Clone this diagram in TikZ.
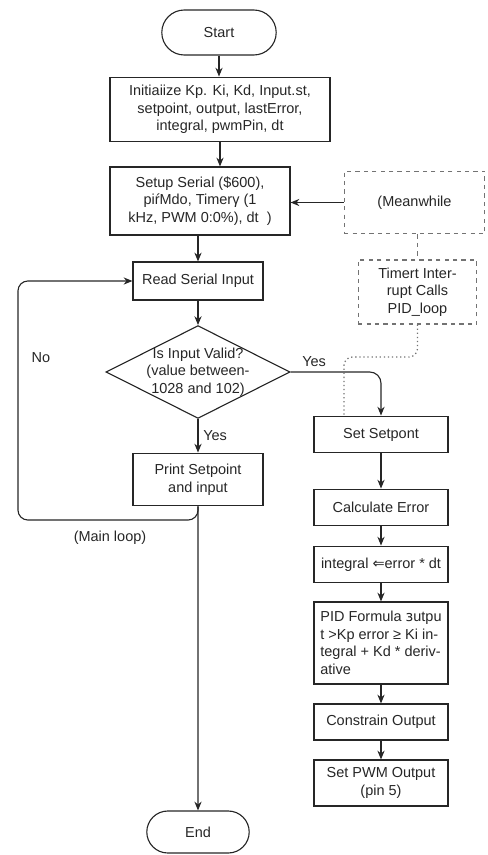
\documentclass[tikz,border=0pt]{standalone}
\usepackage{fontspec}
\setmainfont{Liberation Sans}
\newfontfamily\symfont{DejaVu Sans}
\usetikzlibrary{shapes.geometric,shapes.misc,arrows.meta}

\tikzset{
	base/.style={draw=black!85, line width=0.8pt, font=\fontsize{10.3}{12.5}\selectfont, text=black!85, align=center, inner sep=2pt},
	proc/.style={base, rectangle},
	term/.style={base, rounded rectangle},
	decide/.style={base, diamond, aspect=2, inner sep=-3.5pt},
	note/.style={base, draw=black!55, dashed, rectangle},
	lbl/.style={font=\fontsize{10.3}{12.5}\selectfont, text=black!85},
	arr/.style={-{Stealth[length=2.2mm,width=1.8mm]}, line width=0.8pt, draw=black!85},
	dashlink/.style={dashed, line width=0.8pt, draw=black!55},
	dots/.style={dotted, line width=0.9pt, draw=black!55},
}

\begin{document}
\begin{tikzpicture}[x=0.025cm,y=-0.025cm]
	\useasboundingbox (0,0) rectangle (487,855);
	
	% main column
	\node[term, minimum width=3cm, minimum height=1.125cm] (start) at (219,32.5) {Start};
	\node[proc, minimum width=5.5cm, minimum height=1.62cm] (init) at (220,109.5) {Initiaiize Kp. Ki, Kd, Input.st,\\setpoint, output, lastError,\\integral, pwmPin, dt};
	\node[proc, minimum width=4.5cm, minimum height=1.7cm] (setup) at (200,201) {Setup Serial (\$600),\\piŕMdo, Timerγ (1\\kHz, PWM 0:0\%), dt\ \ )};
	\node[proc, minimum width=3.25cm, minimum height=0.95cm] (read) at (198,281) {Read Serial Input};
	\node[decide, minimum width=4.6cm, minimum height=2.32cm] (valid) at (198,372) {Is Input Valid?\\(value between-\\1028 and 102)};
	\node[proc, minimum width=3.25cm, minimum height=1.32cm] (print) at (198,479.5) {Print Setpoint\\and input};
	\node[term, minimum width=2.7cm, minimum height=1.05cm] (end) at (198,832) {End};
	
	\node[lbl] (nolbl) at (41,358) {No};
	\node[lbl] (mainlbl) at (110,538) {(Main loop)};
	\coordinate (loopc) at (18,520);
	
	% timer side
	\node[note, minimum width=3.52cm, minimum height=1.57cm] (mean) at (414.5,202.5) {(Meanwhile};
	\node[note, minimum width=2.97cm, minimum height=1.6cm] (timer) at (417.5,292) {Timert Inter-\\rupt Calls\\PID\_loop};
	\coordinate (dotc) at (344,357);
	
	% pid column
	\node[proc, minimum width=3.35cm, minimum height=0.92cm] (setpt) at (381,434.5) {Set Setpont};
	\node[proc, minimum width=3.35cm, minimum height=0.92cm] (calc) at (381,507.5) {Calculate Error};
	\node[proc, minimum width=3.35cm, minimum height=0.92cm] (integ) at (381,564.5) {integral {\symfont ⇐}error * dt};
	\node[proc, minimum width=3.35cm, minimum height=2.05cm, align=left] (pid) at (381,643) {PID Formula {\symfont ɜ}utpu\\t >Kp error ≥ Ki in-\\tegral + Kd * deriv-\\ative};
	\node[proc, minimum width=3.35cm, minimum height=0.9cm] (constr) at (381,722) {Constrain Output};
	\node[proc, minimum width=3.35cm, minimum height=1.15cm] (pwm) at (381,783) {Set PWM Output\\(pin 5)};
	
	% connectors
	\draw[arr] (start.south) -- (start.south |- init.north);
	\draw[arr] (init.south) -- (init.south |- setup.north);
	\draw[arr] (read.north |- setup.south) -- (read.north);
	\draw[arr] (read) -- (valid);
	\draw[arr] (valid) -- node[lbl, right] {Yes} (print);
	\draw[arr] (print) -- (end);
	\draw[arr, rounded corners=7pt] (print.south) |- (loopc) |- (read.west);
	\draw[arr, rounded corners=8pt] (valid.east) -| node[lbl, above, pos=0.13] {Yes} (setpt.north);
	
	\draw[arr] (mean.west) -- (mean.west -| setup.east);
	\draw[dashlink] (timer.north |- mean.south) -- (timer.north);
	\draw[dots, rounded corners=6pt] (timer.south) |- (dotc) -- (dotc |- setpt.north);
	
	\draw[arr] (setpt) -- (calc);
	\draw[arr] (calc) -- (integ);
	\draw[arr] (integ) -- (pid);
	\draw[arr] (pid) -- (constr);
	\draw[arr] (constr) -- (pwm);
	
\end{tikzpicture}
\end{document}
